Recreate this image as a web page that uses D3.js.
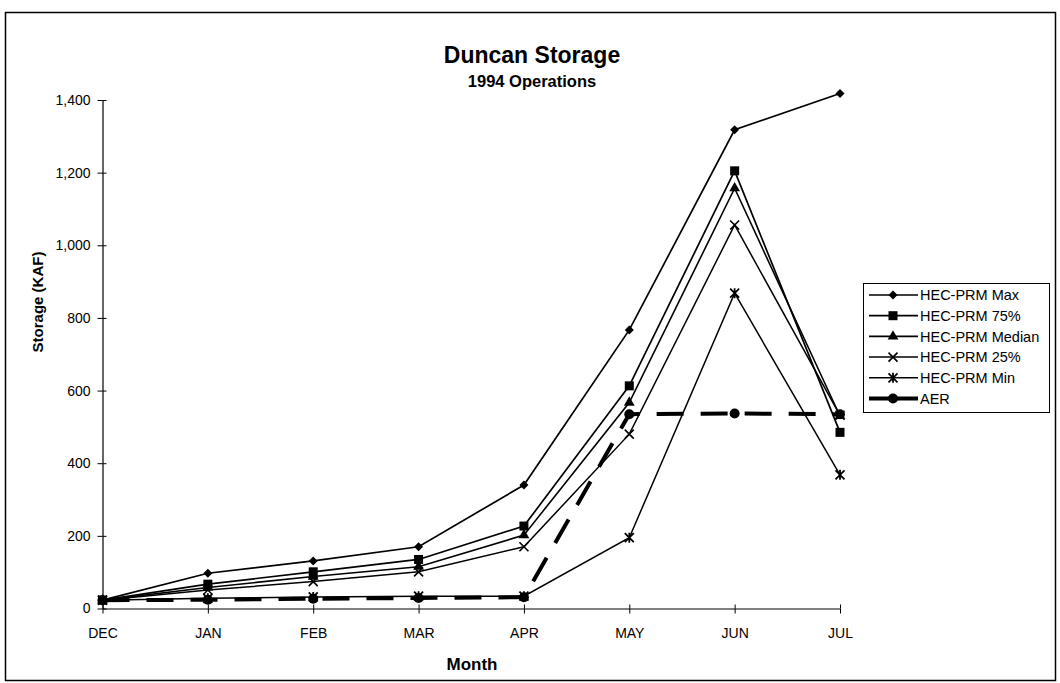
<!DOCTYPE html>
<html><head><meta charset="utf-8">
<script src="https://cdn.jsdelivr.net/npm/d3@7"></script>
<style>
body{margin:0;background:#fff}
text{font-family:"Liberation Sans",Arial,Helvetica,sans-serif;fill:#000}
</style>
</head><body>
<svg id="c" width="1060" height="683"></svg>
<script>
// ---- data ----
const months = ["DEC","JAN","FEB","MAR","APR","MAY","JUN","JUL"];
const hecMax    = [23, 97, 131, 170, 340, 767, 1318, 1418];
const hec75     = [23, 67, 101, 135, 227, 613, 1205, 485];
const hecMedian = [23, 58, 88, 115, 202, 567, 1157, 530];
const hec25     = [23, 51, 74, 101, 170, 480, 1056, 532];
const hecMin    = [23, 28, 32, 34, 34, 195, 868, 368];
const aer       = [23, 24, 27, 29, 31, 535, 537, 535];
const yTicks = [0, 200, 400, 600, 800, 1000, 1200, 1400];
const seriesNames = ["HEC-PRM Max","HEC-PRM 75%","HEC-PRM Median","HEC-PRM 25%","HEC-PRM Min","AER"];
const titleText = "Duncan Storage";
const subtitleText = "1994 Operations";
const xLabel = "Month";
const yLabel = "Storage (KAF)";

const series = [
  {name: seriesNames[0], values: hecMax, marker: "diamond", w: 1.7},
  {name: seriesNames[1], values: hec75, marker: "square", w: 1.7},
  {name: seriesNames[2], values: hecMedian, marker: "triangle", w: 1.6},
  {name: seriesNames[3], values: hec25, marker: "x", w: 1.5},
  {name: seriesNames[4], values: hecMin, marker: "asterisk", w: 1.5},
  {name: seriesNames[5], values: aer, marker: "circle", w: 4, dash: "27,17"}
];

const svg = d3.select("#c");
// outer frame
svg.append("rect").attr("x",5.5).attr("y",12.5).attr("width",1050).attr("height",668)
  .attr("fill","none").attr("stroke","#000").attr("stroke-width",1.5);

const x = d3.scalePoint().domain(months).range([102.5, 840]);
const y = d3.scaleLinear().domain([0, 1400]).range([608.5, 100]);

// y axis
const ya = svg.append("g").attr("transform","translate(102.5,0)")
  .call(d3.axisLeft(y).tickValues(yTicks).tickFormat(d3.format(",")).tickSizeInner(5).tickSizeOuter(0).tickPadding(7));
ya.selectAll(".tick").append("line").attr("x1",0).attr("x2",4).attr("stroke","#000");
ya.selectAll("text").style("font-size","14px");
ya.select(".domain").attr("stroke-width",1.2);

// x axis
const xa = svg.append("g").attr("transform","translate(0,608.5)")
  .call(d3.axisBottom(x).tickSizeInner(5).tickSizeOuter(0).tickPadding(14.5));
xa.selectAll(".tick").append("line").attr("y1",-4).attr("y2",0).attr("stroke","#000");
xa.selectAll("text").style("font-size","14px");
xa.select(".domain").attr("stroke-width",1);

// titles
svg.append("text").attr("x",532).attr("y",63).attr("text-anchor","middle")
  .style("font-size","23px").style("font-weight","bold").text(titleText);
svg.append("text").attr("x",532).attr("y",87).attr("text-anchor","middle")
  .style("font-size","16.5px").style("font-weight","bold").text(subtitleText);
svg.append("text").attr("x",472).attr("y",670).attr("text-anchor","middle")
  .style("font-size","17px").style("font-weight","bold").text(xLabel);
svg.append("text").attr("transform","translate(43,302) rotate(-90)").attr("text-anchor","middle")
  .style("font-size","15px").style("font-weight","bold").text(yLabel);

// markers
function drawMarker(g, type, cx, cy) {
  const m = g.append("g").attr("transform", `translate(${cx},${cy})`);
  if (type === "diamond") m.append("path").attr("d","M0,-4.5L4.5,0L0,4.5L-4.5,0Z").attr("fill","#000");
  else if (type === "square") m.append("rect").attr("x",-4.5).attr("y",-4.5).attr("width",9).attr("height",9).attr("fill","#000");
  else if (type === "triangle") m.append("path").attr("d", d3.symbol(d3.symbolTriangle, 50)()).attr("fill","#000");
  else if (type === "circle") m.append("circle").attr("r",5).attr("fill","#000");
  else if (type === "x") m.append("path").attr("d","M-4.5,-4.5L4.5,4.5M-4.5,4.5L4.5,-4.5").attr("stroke","#000").attr("stroke-width",1.6);
  else if (type === "asterisk") m.append("path").attr("d","M-4.5,-4.5L4.5,4.5M-4.5,4.5L4.5,-4.5M0,-5L0,5").attr("stroke","#000").attr("stroke-width",1.8);
}

const line = d3.line().x((d,i) => x(months[i])).y(d => y(d));
const plot = svg.append("g");
series.forEach(s => {
  plot.append("path").datum(s.values).attr("d", line).attr("fill","none")
    .attr("stroke","#000").attr("stroke-width", s.w)
    .attr("stroke-dasharray", s.dash || null);
});
series.forEach(s => {
  s.values.forEach((v,i) => drawMarker(plot, s.marker, x(months[i]), y(v)));
});

// legend
const lg = svg.append("g");
lg.append("rect").attr("x",863.5).attr("y",283.5).attr("width",186).attr("height",129)
  .attr("fill","#fff").attr("stroke","#000").attr("stroke-width",1);
series.forEach((s,i) => {
  const ry = 295 + i*20.7;
  lg.append("line").attr("x1",869).attr("x2",918).attr("y1",ry).attr("y2",ry)
    .attr("stroke","#000").attr("stroke-width", s.w);
  drawMarker(lg, s.marker, 893, ry);
  lg.append("text").attr("x",920).attr("y",ry).attr("dy","0.36em")
    .style("font-size","14.5px").text(s.name);
});
</script>
</body></html>
